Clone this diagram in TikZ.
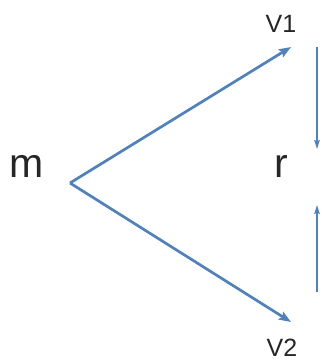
\documentclass[tikz,border=0pt]{standalone}
\usepackage{fontspec}
\setmainfont{Liberation Sans}
\usetikzlibrary{arrows.meta}
\definecolor{arrowblue}{RGB}{79,129,189}
\tikzset{
  big/.style={font=\fontsize{41}{41}\selectfont, inner sep=0pt, text=black!85},
  small/.style={font=\fontsize{25}{25}\selectfont, inner sep=0pt, text=black!85},
  vec/.style={draw=arrowblue, line width=2.7pt, -{Stealth[length=12pt,width=9pt,inset=2pt]}},
  thin vec/.style={draw=arrowblue, line width=1.6pt, -{Stealth[length=9pt,width=5.5pt,inset=1.5pt]}}
}
\begin{document}
\begin{tikzpicture}[x=1pt,y=-1pt]
\useasboundingbox (0,0) rectangle (322,364);
\node[big] (m) at (27,166) {m};
\node[big] (r) at (281,166) {r};
\node[small] (v1) at (281,24) {V1};
\node[small] (v2) at (282,348) {V2};
\coordinate (o) at (70,183);
\coordinate (t1) at (291,47);
\coordinate (t2) at (291,322);
\coordinate (a1) at (317,47);
\coordinate (a2) at (317,149);
\coordinate (b1) at (317,292);
\coordinate (b2) at (317,205);
\draw[vec] (o) -- (t1);
\draw[vec] (o) -- (t2);
\draw[thin vec] (a1) -- (a2);
\draw[thin vec] (b1) -- (b2);
\end{tikzpicture}
\end{document}
